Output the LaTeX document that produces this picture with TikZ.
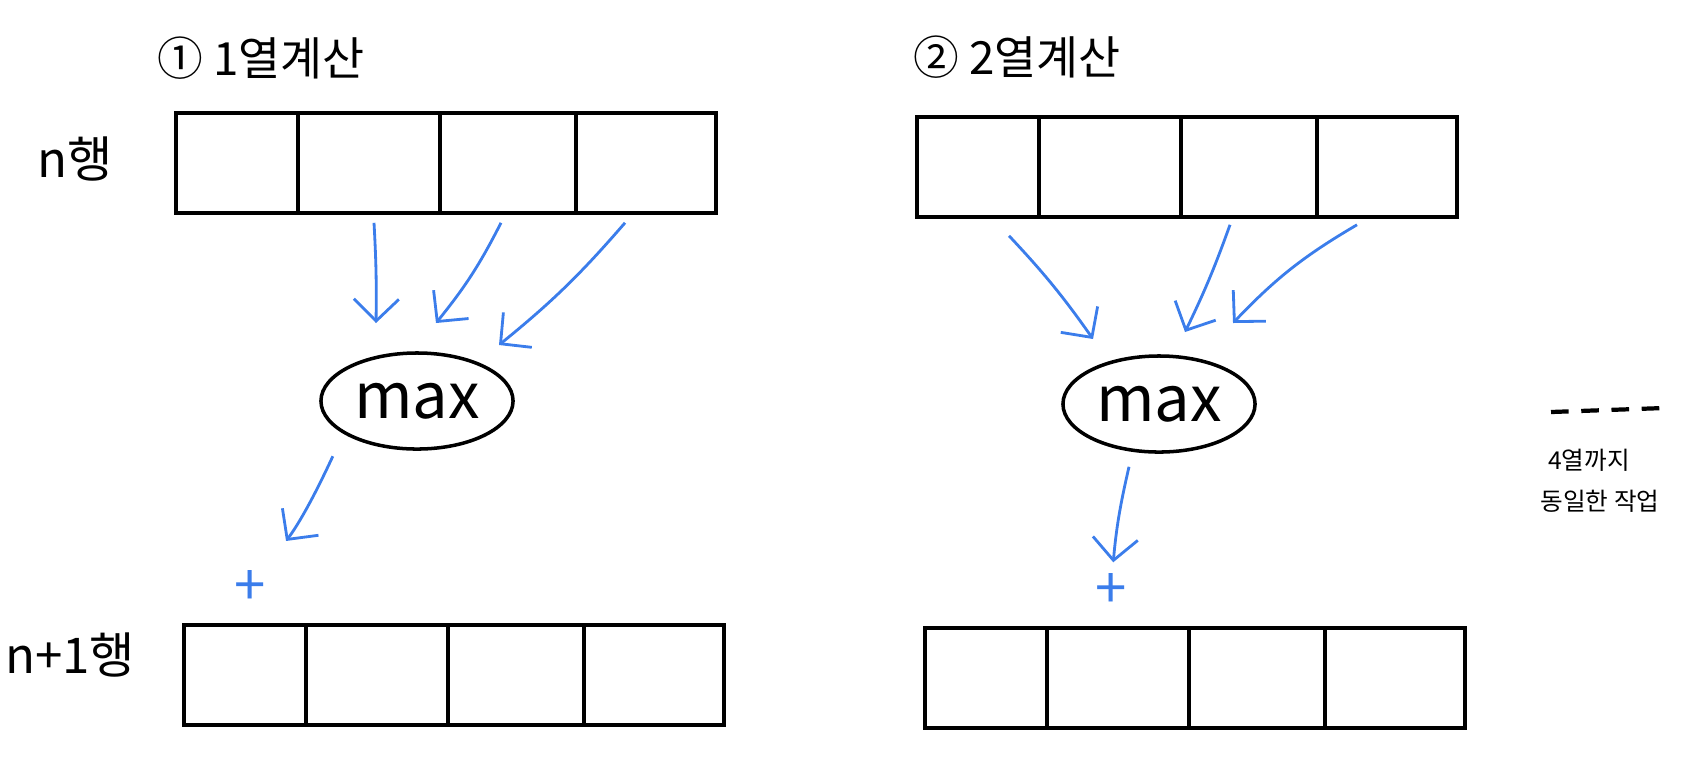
\documentclass[tikz,border=0pt]{standalone}
\usepackage{fontspec}
\setmainfont{Noto Sans CJK KR}
\usetikzlibrary{arrows.meta,shapes.geometric}
\definecolor{penblue}{RGB}{59,125,235}

\begin{document}
\begin{tikzpicture}[x=0.01cm, y=-0.01cm,
  cell/.style={draw, line width=1pt, minimum height=1cm, inner sep=0pt},
  maxnode/.style={draw, ellipse, line width=1pt, minimum width=1.92cm, minimum height=0.96cm,
    inner sep=0pt, font=\fontsize{18}{20}\selectfont},
  flow/.style={penblue, line width=0.8pt, -{Straight Barb[length=2.2mm,width=4.5mm]}},
  title/.style={font=\fontsize{13}{15}\selectfont},
  rowlabel/.style={font=\fontsize{14}{16}\selectfont},
  plus/.style={penblue, font=\fontsize{16}{18}\selectfont, inner sep=1pt}]
  \useasboundingbox (0,0) rectangle (1689,775);
  % rows of four cells
  \foreach \row/\xo/\yc in {ta/176/163, tb/917/167, ba/184/675, bb/925/678}
    \foreach \a/\b [count=\i] in {0/122, 122/264, 264/400, 400/540}
      \node[cell, minimum width={(\b-\a)*0.01cm}] (\row\i) at ({\xo+(\a+\b)/2},\yc) {};
  % titles and row labels
  \node[title] (title1) at (261,58) {① 1열계산};
  \node[title] (title2) at (1017,57) {② 2열계산};
  \node[rowlabel] (rown) at (75,159) {n행};
  \node[rowlabel] (rown1) at (70,655) {n+1행};
  % max nodes
  \node[maxnode] (max1) at (417,401) {max};
  \node[maxnode] (max2) at (1159,404) {max};
  \node[plus] (plus1) at (250,588) {+};
  \node[plus] (plus2) at (1111,591) {+};
  % arrow tips above max
  \coordinate (a1) at (376,323);
  \coordinate (a2) at (436,323);
  \coordinate (a3) at (499,345);
  \coordinate (b1) at (1093,339);
  \coordinate (b2) at (1185,332);
  \coordinate (b3) at (1233,323);
  % column 1
  \draw[flow] ([shift={(5,8)}]ta2.south) to[bend left=2] (a1);
  \draw[flow] ([shift={(-7,8)}]ta3.south) to[bend left=6] (a2);
  \draw[flow] ([shift={(-21,8)}]ta4.south) to[bend left=5] (a3);
  \draw[flow, shorten >=9pt] ([shift={(-15,20)}]max1.south west) to[bend left=6] (plus1);
  % column 2
  \draw[flow] ([shift={(31,17)}]tb1.south) to[bend left=4] (b1);
  \draw[flow] ([shift={(-19,6)}]tb3.south) to[bend left=3] (b2);
  \draw[flow] ([shift={(-30,6)}]tb4.south) to[bend right=8] (b3);
  \draw[flow, shorten >=2pt] ([shift={(-30,13)}]max2.south) to[bend right=4] (plus2);
  % same work up to column 4
  \draw[line width=1.2pt, dash pattern=on 5pt off 3.6pt] (1551,412) -- (1664,408);
  \node[font=\fontsize{7}{8}\selectfont] (note1) at (1589,460) {4열까지};
  \node[font=\fontsize{7}{8}\selectfont] (note2) at (1600,501) {동일한 작업};
\end{tikzpicture}
\end{document}
